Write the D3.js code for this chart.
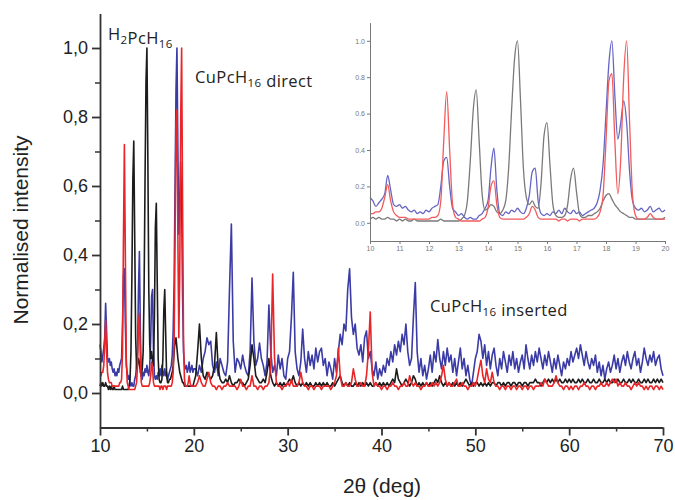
<!DOCTYPE html>
<html>
<head>
<meta charset="utf-8">
<script src="https://cdn.jsdelivr.net/npm/d3@7"></script>
<style>
  body { margin: 0; background: #fff; }
  text { font-family: "Liberation Sans", Arial, sans-serif; }
  .note { font-family: "Open Sans", "Liberation Sans", sans-serif; }
</style>
</head>
<body>
<svg id="chart" width="675" height="500"></svg>
<script>
// 2theta grid: 10.0-20.0 every 0.1, then 20.2-70.0 every 0.2
var anglesFine = d3.range(101).map(function(i) { return +(10 + i * 0.1).toFixed(1); });
var anglesCoarse = d3.range(250).map(function(i) { return +(20.2 + i * 0.2).toFixed(1); });

var xTicks = [10, 20, 30, 40, 50, 60, 70];
var yTicks = [0, 0.2, 0.4, 0.6, 0.8, 1.0];
var insetXTicks = [10, 11, 12, 13, 14, 15, 16, 17, 18, 19, 20];

// H2PcH16 (black)
var blackFine = [
  0.02,0.03,0.02,0.03,0.02,0.02,0.03,0.02,0.02,0.01,
  0.02,0.01,0.02,0.01,0.01,0.02,0.01,0.01,0.01,0.01,
  0.01,0.01,0.01,0.01,0.02,0.01,0.01,0.01,0.01,0.01,
  0.01,0.02,0.04,0.12,0.34,0.62,0.73,0.45,0.16,0.07,
  0.08,0.10,0.09,0.06,0.05,0.07,0.12,0.30,0.62,0.90,
  1.00,0.68,0.30,0.14,0.10,0.12,0.09,0.08,0.22,0.48,
  0.55,0.32,0.10,0.04,0.03,0.03,0.04,0.10,0.24,0.30,
  0.17,0.05,0.03,0.03,0.04,0.04,0.05,0.06,0.08,0.12,
  0.15,0.16,0.13,0.10,0.08,0.06,0.05,0.04,0.03,0.03,
  0.02,0.02,0.02,0.02,0.02,0.02,0.02,0.02,0.02,0.02,
  0.03
];
var blackCoarse = [
  0.05,0.12,0.20,0.10,0.05,0.04,0.06,0.05,0.04,0.05,
  0.08,0.175,0.07,0.04,0.03,0.03,0.04,0.03,0.05,0.03,
  0.02,0.03,0.03,0.04,0.03,0.03,0.02,0.03,0.04,0.08,
  0.14,0.10,0.05,0.04,0.03,0.03,0.04,0.03,0.06,0.10,
  0.05,0.03,0.02,0.03,0.02,0.03,0.02,0.03,0.02,0.03,
  0.04,0.03,0.05,0.03,0.02,0.03,0.02,0.03,0.02,0.03,
  0.02,0.03,0.02,0.02,0.03,0.02,0.03,0.02,0.03,0.02,
  0.03,0.02,0.02,0.03,0.02,0.03,0.04,0.05,0.03,0.02,
  0.03,0.02,0.03,0.02,0.02,0.03,0.02,0.03,0.02,0.03,
  0.02,0.03,0.02,0.03,0.02,0.02,0.03,0.02,0.03,0.02,
  0.03,0.02,0.03,0.02,0.03,0.04,0.03,0.07,0.04,0.03,
  0.02,0.03,0.04,0.03,0.02,0.03,0.05,0.04,0.02,0.03,
  0.02,0.03,0.02,0.03,0.02,0.03,0.02,0.03,0.04,0.03,
  0.05,0.03,0.02,0.03,0.02,0.03,0.02,0.03,0.02,0.03,
  0.02,0.03,0.02,0.03,0.04,0.03,0.02,0.03,0.02,0.03,
  0.03,0.02,0.03,0.02,0.03,0.02,0.03,0.02,0.03,0.03,
  0.02,0.03,0.03,0.02,0.03,0.02,0.03,0.03,0.02,0.03,
  0.03,0.02,0.03,0.03,0.02,0.03,0.03,0.02,0.03,0.03,
  0.03,0.04,0.03,0.03,0.02,0.03,0.04,0.03,0.04,0.03,
  0.04,0.03,0.04,0.03,0.04,0.03,0.03,0.04,0.03,0.04,
  0.03,0.04,0.03,0.03,0.04,0.03,0.04,0.03,0.03,0.04,
  0.03,0.03,0.04,0.03,0.03,0.04,0.03,0.03,0.04,0.03,
  0.04,0.03,0.03,0.04,0.03,0.04,0.03,0.03,0.04,0.03,
  0.03,0.04,0.03,0.04,0.03,0.03,0.04,0.03,0.03,0.04,
  0.03,0.04,0.03,0.03,0.04,0.03,0.04,0.03,0.04,0.03
];

// CuPcH16 direct (red)
var redFine = [
  0.05,0.05,0.06,0.06,0.08,0.14,0.21,0.12,0.06,0.04,
  0.03,0.03,0.03,0.02,0.02,0.02,0.02,0.02,0.02,0.02,
  0.02,0.03,0.03,0.04,0.12,0.45,0.72,0.40,0.10,0.03,
  0.02,0.01,0.01,0.01,0.01,0.01,0.01,0.01,0.02,0.03,
  0.08,0.20,0.23,0.10,0.03,0.02,0.02,0.02,0.02,0.02,
  0.02,0.02,0.02,0.03,0.05,0.09,0.07,0.03,0.02,0.02,
  0.02,0.02,0.02,0.02,0.01,0.02,0.02,0.01,0.02,0.02,
  0.02,0.01,0.02,0.02,0.02,0.02,0.02,0.03,0.06,0.15,
  0.45,0.78,0.82,0.45,0.16,0.35,0.80,1.00,0.55,0.15,
  0.04,0.02,0.02,0.02,0.03,0.05,0.03,0.02,0.02,0.02,
  0.02
];
var redCoarse = [
  0.02,0.03,0.05,0.03,0.02,0.02,0.04,0.06,0.03,0.02,
  0.02,0.01,0.02,0.02,0.01,0.02,0.02,0.03,0.02,0.02,
  0.02,0.02,0.01,0.02,0.04,0.02,0.02,0.01,0.02,0.02,
  0.05,0.02,0.02,0.01,0.02,0.02,0.01,0.02,0.02,0.03,
  0.08,0.345,0.10,0.03,0.02,0.02,0.01,0.02,0.02,0.03,
  0.02,0.04,0.02,0.02,0.02,0.03,0.06,0.03,0.02,0.02,
  0.01,0.02,0.02,0.01,0.02,0.02,0.02,0.01,0.02,0.02,
  0.02,0.02,0.01,0.02,0.03,0.05,0.13,0.05,0.02,0.02,
  0.03,0.02,0.02,0.03,0.07,0.04,0.02,0.02,0.03,0.02,
  0.02,0.05,0.12,0.235,0.06,0.02,0.03,0.02,0.02,0.01,
  0.02,0.02,0.01,0.02,0.02,0.03,0.02,0.02,0.01,0.02,
  0.02,0.03,0.02,0.02,0.05,0.03,0.02,0.03,0.02,0.02,
  0.01,0.02,0.02,0.03,0.02,0.02,0.03,0.02,0.03,0.02,
  0.03,0.05,0.08,0.04,0.02,0.03,0.02,0.02,0.03,0.04,
  0.02,0.02,0.03,0.02,0.02,0.01,0.02,0.02,0.03,0.02,
  0.04,0.07,0.095,0.05,0.03,0.07,0.04,0.03,0.06,0.03,
  0.02,0.02,0.01,0.02,0.02,0.01,0.02,0.02,0.01,0.02,
  0.02,0.01,0.02,0.02,0.01,0.02,0.02,0.01,0.02,0.02,
  0.01,0.02,0.02,0.02,0.03,0.02,0.04,0.03,0.02,0.02,
  0.02,0.03,0.05,0.03,0.02,0.02,0.01,0.02,0.02,0.01,
  0.02,0.01,0.02,0.02,0.01,0.02,0.02,0.03,0.02,0.02,
  0.01,0.02,0.02,0.01,0.02,0.02,0.03,0.02,0.02,0.03,
  0.02,0.03,0.04,0.03,0.04,0.02,0.03,0.02,0.02,0.03,
  0.02,0.02,0.01,0.02,0.03,0.02,0.03,0.02,0.02,0.01,
  0.02,0.01,0.02,0.02,0.01,0.02,0.02,0.01,0.02,0.01
];

// CuPcH16 inserted (blue)
var blueFine = [
  0.14,0.12,0.09,0.11,0.13,0.16,0.26,0.18,0.10,0.09,
  0.10,0.08,0.09,0.07,0.06,0.07,0.05,0.06,0.05,0.07,
  0.06,0.08,0.09,0.10,0.20,0.34,0.36,0.20,0.08,0.06,
  0.04,0.05,0.03,0.02,0.03,0.02,0.02,0.04,0.05,0.08,
  0.12,0.30,0.41,0.18,0.05,0.04,0.06,0.05,0.07,0.06,
  0.08,0.06,0.05,0.08,0.15,0.28,0.30,0.12,0.05,0.04,
  0.05,0.04,0.06,0.05,0.07,0.05,0.08,0.06,0.05,0.07,
  0.05,0.06,0.04,0.05,0.06,0.07,0.08,0.11,0.18,0.32,
  0.60,0.88,1.00,0.70,0.46,0.55,0.67,0.55,0.28,0.12,
  0.08,0.07,0.08,0.06,0.07,0.09,0.06,0.07,0.08,0.06,
  0.07
];
var blueCoarse = [
  0.07,0.05,0.08,0.06,0.10,0.12,0.16,0.14,0.15,0.08,
  0.06,0.09,0.05,0.10,0.08,0.06,0.05,0.09,0.30,0.49,
  0.15,0.06,0.10,0.09,0.07,0.11,0.08,0.06,0.05,0.12,
  0.333,0.15,0.08,0.10,0.145,0.10,0.08,0.05,0.09,0.255,
  0.12,0.06,0.08,0.05,0.11,0.07,0.10,0.05,0.04,0.10,
  0.12,0.22,0.35,0.12,0.07,0.05,0.09,0.185,0.10,0.06,
  0.12,0.08,0.11,0.07,0.13,0.09,0.12,0.13,0.08,0.10,
  0.05,0.09,0.07,0.04,0.10,0.06,0.12,0.17,0.14,0.20,
  0.18,0.30,0.36,0.22,0.17,0.20,0.13,0.11,0.14,0.09,
  0.16,0.18,0.10,0.12,0.07,0.05,0.09,0.04,0.07,0.05,
  0.08,0.06,0.10,0.08,0.12,0.09,0.14,0.11,0.15,0.12,
  0.17,0.14,0.20,0.12,0.08,0.10,0.22,0.32,0.12,0.06,
  0.10,0.05,0.08,0.04,0.07,0.11,0.06,0.12,0.09,0.155,
  0.10,0.07,0.12,0.08,0.13,0.09,0.11,0.06,0.10,0.05,
  0.09,0.13,0.07,0.10,0.05,0.08,0.04,0.02,0.06,0.10,
  0.12,0.17,0.15,0.10,0.14,0.08,0.12,0.07,0.11,0.13,
  0.08,0.05,0.10,0.07,0.12,0.09,0.06,0.11,0.08,0.12,
  0.07,0.10,0.06,0.09,0.11,0.07,0.14,0.10,0.07,0.11,
  0.08,0.12,0.09,0.13,0.10,0.07,0.11,0.08,0.12,0.09,
  0.06,0.10,0.07,0.11,0.08,0.05,0.09,0.07,0.10,0.08,
  0.12,0.09,0.11,0.13,0.10,0.14,0.11,0.08,0.12,0.09,
  0.07,0.10,0.08,0.11,0.06,0.09,0.05,0.08,0.04,0.07,
  0.09,0.06,0.08,0.11,0.07,0.10,0.06,0.09,0.11,0.08,
  0.12,0.09,0.07,0.10,0.12,0.08,0.10,0.06,0.09,0.13,
  0.10,0.08,0.11,0.09,0.12,0.08,0.10,0.11,0.07,0.05
];

var svg = d3.select("#chart");

function zip(angles, values) {
  return angles.map(function(a, i) { return [a, values[i]]; });
}

var angles = anglesFine.concat(anglesCoarse);
var series = [
  { name: "blue",  color: "#3b3ba6", inset: "#6565c4", fine: blueFine,  coarse: blueCoarse },
  { name: "black", color: "#1c1c1c", inset: "#7a7a7a", fine: blackFine, coarse: blackCoarse },
  { name: "red",   color: "#e8262a", inset: "#f25b5b", fine: redFine,   coarse: redCoarse }
];

// ---- main plot ----
var x = d3.scaleLinear().domain([10, 70]).range([100, 663]),
    y = d3.scaleLinear().domain([-0.1, 1.1]).range([427.5, 13.5]);

var line = d3.line()
    .x(function(d) { return x(d[0]); })
    .y(function(d) { return y(d[1]); });

series.forEach(function(s) {
  svg.append("path")
      .datum(zip(angles, s.fine.concat(s.coarse)))
      .attr("fill", "none")
      .attr("stroke", s.color)
      .attr("stroke-width", 1.6)
      .attr("stroke-linejoin", "round")
      .attr("d", line);
});

function styleAxis(g, color, width) {
  g.selectAll("path, line").attr("stroke", color).attr("stroke-width", width);
  g.selectAll("text").attr("fill", "#222");
}

var gx = svg.append("g")
    .attr("transform", "translate(0,427.5)")
    .call(d3.axisBottom(x).tickValues(xTicks).tickSize(8).tickSizeOuter(0).tickPadding(4).tickFormat(d3.format("d")));
gx.selectAll("text").attr("font-size", 18);
styleAxis(gx, "#333", 1.8);

var gxMinor = svg.append("g")
    .attr("transform", "translate(0,427.5)")
    .call(d3.axisBottom(x).tickValues([15, 25, 35, 45, 55, 65]).tickSize(4).tickSizeOuter(0).tickFormat(""));
gxMinor.select(".domain").remove();
styleAxis(gxMinor, "#333", 1.5);

var gy = svg.append("g")
    .attr("transform", "translate(100,0)")
    .call(d3.axisLeft(y).tickValues(yTicks).tickSize(8).tickSizeOuter(0).tickPadding(4)
      .tickFormat(function(d) { return d3.format(".1f")(d).replace(".", ","); }));
gy.selectAll("text").attr("font-size", 18);
styleAxis(gy, "#333", 1.8);

var gyMinor = svg.append("g")
    .attr("transform", "translate(100,0)")
    .call(d3.axisLeft(y).tickValues([0.1, 0.3, 0.5, 0.7, 0.9]).tickSize(5).tickSizeOuter(0).tickFormat(""));
gyMinor.select(".domain").remove();
styleAxis(gyMinor, "#333", 1.5);

svg.append("text")
    .attr("transform", "translate(28,230) rotate(-90)")
    .attr("text-anchor", "middle")
    .attr("font-size", 21)
    .attr("fill", "#222")
    .text("Normalised intensity");

svg.append("text")
    .attr("x", 382).attr("y", 493)
    .attr("text-anchor", "middle")
    .attr("font-size", 21)
    .attr("fill", "#222")
    .text("2θ (deg)");

// labels with subscripts
function label(px, py, parts) {
  var t = svg.append("text").attr("class", "note")
      .attr("x", px).attr("y", py)
      .attr("font-size", 16.5).attr("fill", "#222")
      .attr("letter-spacing", 0.4);
  parts.forEach(function(p) {
    if (p.sub) {
      t.append("tspan").attr("font-size", 11.5).attr("dy", 4).text(p.sub);
      t.append("tspan").attr("dy", -4).text("");
    } else {
      t.append("tspan").text(p.t);
    }
  });
}
label(108, 40, [{t: "H"}, {sub: "2"}, {t: "PcH"}, {sub: "16"}]);
label(195, 83, [{t: "CuPcH"}, {sub: "16"}, {t: " direct"}]);
label(430, 312, [{t: "CuPcH"}, {sub: "16"}, {t: " inserted"}]);

// ---- inset ----
var xi = d3.scaleLinear().domain([10, 20]).range([370, 665]),
    yi = d3.scaleLinear().domain([-0.1, 1.1]).range([241, 22.6]);

var insetLine = d3.line()
    .curve(d3.curveMonotoneX)
    .x(function(d) { return xi(d[0]); })
    .y(function(d) { return yi(d[1]); });

series.forEach(function(s) {
  svg.append("path")
      .datum(zip(anglesFine, s.fine))
      .attr("fill", "none")
      .attr("stroke", s.inset)
      .attr("stroke-width", 1.3)
      .attr("d", insetLine);
});

var gxi = svg.append("g")
    .attr("transform", "translate(0,241)")
    .call(d3.axisBottom(xi).tickValues(insetXTicks).tickSize(3).tickSizeOuter(0).tickPadding(2).tickFormat(d3.format("d")));
gxi.selectAll("text").attr("font-size", 7);
styleAxis(gxi, "#777", 1);
gxi.selectAll("text").attr("fill", "#777");

var gyi = svg.append("g")
    .attr("transform", "translate(370,0)")
    .call(d3.axisLeft(yi).tickValues(yTicks).tickSize(3).tickSizeOuter(0).tickPadding(2).tickFormat(d3.format(".1f")));
gyi.selectAll("text").attr("font-size", 7);
styleAxis(gyi, "#777", 1);
gyi.selectAll("text").attr("fill", "#777");
</script>
</body>
</html>
